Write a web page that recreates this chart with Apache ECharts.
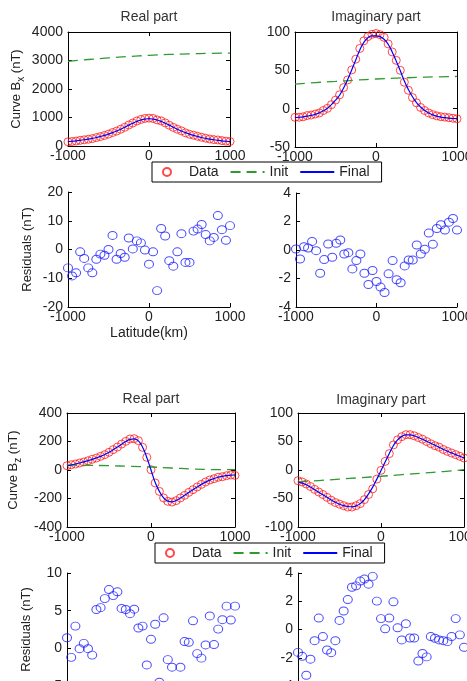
<!DOCTYPE html>
<html>
<head>
<meta charset="utf-8">
<script src="https://cdn.jsdelivr.net/npm/echarts@6/dist/echarts.min.js"></script>
<style>
  html, body { margin: 0; padding: 0; background: #fff; }
  #chart { width: 467px; height: 681px; }
</style>
</head>
<body>
<div id="chart"></div>
<script>
// latitude of the 41 stations (km)
var lat = [-1000, -950, -900, -850, -800, -750, -700, -650, -600, -550, -500,
  -450, -400, -350, -300, -250, -200, -150, -100, -50, 0,
  50, 100, 150, 200, 250, 300, 350, 400, 450, 500,
  550, 600, 650, 700, 750, 800, 850, 900, 950, 1000];
var initLat = [-1000, -750, -500, -250, 0, 250, 500, 750, 1000];

// Bx, real part
var bxReData = [147, 158, 174, 199, 217, 236, 260, 295, 331, 370, 417, 473, 522, 588, 656, 736, 806, 877, 932, 967,
  978, 966, 916, 881, 811, 728, 653, 588, 531, 463, 412, 378, 340, 307, 273, 245, 224, 212, 189, 170, 158];
var bxReInit = [2970, 3035, 3090, 3140, 3180, 3212, 3235, 3250, 3260];
var bxReFinal = [153, 167, 182, 200, 220, 242, 268, 298, 333, 372, 417, 468, 525, 589, 659, 732, 800, 862, 912, 945,
  958, 945, 912, 862, 800, 732, 659, 589, 525, 468, 417, 372, 333, 298, 268, 242, 220, 200, 182, 167, 152];
var bxReRes = [-6.4, -9.2, -8.1, -0.8, -3.1, -6.4, -8.1, -3.4, -1.6, -2.0, 0.0, 4.9, -3.4, -1.4, -2.7, 4.0, 0.2, 3.0, 2.3, -0.2,
  -5.1, -0.8, -14.3, 7.3, 4.7, -3.9, -5.8, -0.8, 5.5, -4.5, -4.5, 6.4, 7.1, 8.7, 5.2, 3.0, 4.2, 11.8, 6.9, 3.2, 8.3];

// Bx, imaginary part
var bxImData = [-11.3, -11.2, -10.6, -9.0, -8.3, -7.0, -5.6, -2.4, 0.4, 5.2, 11.2, 18.0, 27.5, 37.5, 50.5, 64.5, 78.5, 88.5, 94, 97,
  98, 96.5, 93, 84.5, 74, 63, 50, 34.5, 24, 14.5, 7.6, 1.6, -2.4, -5.6, -7.8, -9.4, -10.5, -11, -11.8, -12.5, -13.2];
var bxImInit = [32, 34, 35.5, 37.2, 38.7, 39.8, 40.8, 41.5, 42];
var bxImFinal = [-11.8, -11.2, -10.6, -9.8, -8.8, -7.4, -5.4, -2.8, 0.6, 5.2, 11, 17.5, 27, 38, 50.5, 63.5, 76.5, 86.5, 92.5, 95,
  95, 94, 90.5, 84, 74, 62, 49.5, 36, 25, 15.5, 8, 2.2, -2.2, -5.6, -8, -9.8, -11, -11.8, -12.4, -12.8, -13];
var bxImRes = [0.07, -0.63, 0.23, 0.14, 0.6, -0.05, -1.63, -0.67, 0.42, -0.51, 0.47, 0.7, -0.28, -0.19, -1.33, -0.74, -0.28, -1.63, -2.42, -1.44,
  -2.21, -2.6, -2.98, -1.67, -0.74, -2.09, -2.3, -1.12, -0.7, -0.7, 0.35, -0.28, 0.05, 1.19, 0.4, 1.51, 1.77, 1.4, 1.95, 2.21, 1.4];

// Bz, real part
var bzReData = [30, 37, 42, 49, 56, 65, 75, 84, 96, 108, 124, 143, 161, 182, 201, 218, 220, 206, 159, 89,
  2, -91, -150, -196, -220, -225, -215, -196, -178, -157, -138, -119, -101, -84, -70, -61, -51, -47, -40, -35, -38];
var bzReInit = [35, 33, 30, 26, 21, 14, 7, 3, 2];
var bzReFinal = [28, 35, 42, 49, 57, 66, 75, 85, 96, 109, 124, 142, 161, 181, 200, 215, 219, 204, 160, 88,
  0, -88, -150, -195, -218, -223, -214, -197, -178, -158, -138, -119, -101, -85, -71, -60, -51, -45, -40, -36, -35];
var bzReRes = [1.4, -1.2, 2.95, -0.05, 0.66, -0.05, -0.9, 5.15, 5.4, 6.6, 7.8, 7.0, 7.5, 5.3, 5.15, 4.6, 5.2, 2.7, 2.95, -2.2,
  1.2, 3.2, -4.5, 4.05, -1.5, -2.5, -6, -2.5, 0.9, 0.8, 3.65, -0.7, -1.3, 0.45, 4.3, 0.5, 2.55, 3.8, 5.6, 3.75, 5.6];

// Bz, imaginary part
var bzImData = [-18.7, -21, -24.6, -29, -34, -38.6, -43, -48, -53, -57, -60, -62.6, -65, -65, -62.6, -59, -52, -43, -33, -16,
  -0.6, 15, 28.7, 44, 53, 58.5, 62, 62, 60, 57, 54, 50, 46, 42.7, 40, 36, 32.7, 29.8, 27, 24, 21];
var bzImInit = [-21, -18.5, -16, -13.5, -11, -8.2, -5.5, -2.7, 0.5];
var bzImFinal = [-21, -23, -26, -30, -34.5, -39, -43.5, -48, -52.5, -56.5, -60, -62.5, -64, -64.5, -63, -59, -52, -42, -30, -16,
  -1, 14, 29, 43, 53, 59, 61.5, 61.5, 60, 57, 54, 50.5, 47, 43.5, 40, 36.5, 33, 30, 27, 24, 21];
var bzImRes = [-1.62, -1.9, -3.24, -2.1, -0.79, 0.81, -0.5, -1.45, -1.64, -0.79, 0.64, 1.31, 2.12, 2.99, 3.09, 3.43, 3.57, 3.21, 3.76, 2.01,
  0.77, 0.05, 0.81, 1.96, 0.12, -0.74, 0.41, -0.6, -0.6, -2.23, -1.7, -1.94, -0.5, -0.62, -0.74, -0.79, -0.86, -0.5, 0.77, -0.38, -1.26];

var legendNames = ['Data', 'Init', 'Final'];

var FONT = 'Liberation Sans, Arial, sans-serif';
var TXT = '#222';

function pairs (xs, ys) {
  return xs.map(function (x, i) { return [x, ys[i]]; });
}

var panels = [
  {grid: {left: 68, top: 32, width: 162, height: 114}, y: [0, 4000, 1000], box: true, yName: 'Curve B{s|x} (nT)', yGap: 42},
  {grid: {left: 295, top: 32, width: 162, height: 115}, y: [-50, 100, 50], box: true},
  {grid: {left: 68, top: 192, width: 162, height: 115}, y: [-20, 20, 10], yName: 'Residuals (nT)', yGap: 34, xName: 'Latitude(km)'},
  {grid: {left: 296, top: 193, width: 161, height: 114}, y: [-4, 4, 2]},
  {grid: {left: 67, top: 413, width: 168, height: 114}, y: [-400, 400, 200], box: true, yName: 'Curve B{s|z} (nT)', yGap: 44},
  {grid: {left: 298, top: 413, width: 166, height: 114}, y: [-100, 100, 50], box: true},
  {grid: {left: 67, top: 573, width: 168, height: 113}, y: [-5, 10, 5], yName: 'Residuals (nT)', yGap: 34},
  {grid: {left: 298, top: 573, width: 166, height: 113}, y: [-4, 4, 2]}
];

var grids = [], xAxes = [], yAxes = [];
var lineBlack = {color: '#000', width: 1};
var plain = function (v) { return String(v); };

panels.forEach(function (p, i) {
  var g = Object.assign({outerBoundsMode: 'none', containLabel: false}, p.grid);
  grids.push(g);
  xAxes.push({
    type: 'value', gridIndex: i, position: 'bottom',
    min: -1000, max: 1000, interval: 1000,
    axisLine: {show: true, onZero: false, lineStyle: lineBlack},
    axisTick: {show: true, inside: true, length: 4, lineStyle: lineBlack},
    axisLabel: {color: TXT, fontSize: 14, fontFamily: FONT, margin: 3, formatter: plain},
    splitLine: {show: false},
    name: p.xName || '', nameLocation: 'middle', nameGap: 19,
    nameTextStyle: {color: TXT, fontSize: 14, fontFamily: FONT}
  });
  yAxes.push({
    type: 'value', gridIndex: i, position: 'left',
    min: p.y[0], max: p.y[1], interval: p.y[2],
    axisLine: {show: true, onZero: false, lineStyle: lineBlack},
    axisTick: {show: true, inside: true, length: 4, lineStyle: lineBlack},
    axisLabel: {color: TXT, fontSize: 14, fontFamily: FONT, margin: 5, formatter: plain},
    splitLine: {show: false},
    name: p.yName || '', nameLocation: 'middle', nameGap: p.yGap || 30, nameRotate: 90,
    nameTextStyle: {
      color: TXT, fontSize: 13, fontFamily: FONT,
      rich: {s: {color: TXT, fontSize: 10, fontFamily: FONT, padding: [9, 0, 0, 0]}}
    }
  });
});

// top and right frame of the fitted-curve panels, ticks pointing inward
panels.forEach(function (p, i) {
  if (!p.box) return;
  xAxes.push({
    type: 'value', gridIndex: i, position: 'top',
    min: -1000, max: 1000, interval: 1000,
    axisLine: {show: true, onZero: false, lineStyle: lineBlack},
    axisTick: {show: true, inside: true, length: 4, lineStyle: lineBlack},
    axisLabel: {show: false}, splitLine: {show: false}
  });
  yAxes.push({
    type: 'value', gridIndex: i, position: 'right',
    min: p.y[0], max: p.y[1], interval: p.y[2],
    axisLine: {show: true, onZero: false, lineStyle: lineBlack},
    axisTick: {show: true, inside: true, length: 4, lineStyle: lineBlack},
    axisLabel: {show: false}, splitLine: {show: false}
  });
});

var RED = '#ff1a1a', GREEN = '#2f9a2f', BLUE = '#0000ff', RESBLUE = '#2020ff';

function fitSeries (g, data, init, fin) {
  return [
    {name: 'Data', type: 'scatter', xAxisIndex: g, yAxisIndex: g, data: pairs(lat, data),
      symbol: 'circle', symbolSize: 8,
      itemStyle: {color: 'rgba(255,255,255,0)', borderColor: RED, borderWidth: 1}},
    {name: 'Init', type: 'line', xAxisIndex: g, yAxisIndex: g, data: pairs(initLat, init),
      symbol: 'none', smooth: true, itemStyle: {color: GREEN},
      lineStyle: {color: GREEN, width: 1.3, type: [10, 6]}},
    {name: 'Final', type: 'line', xAxisIndex: g, yAxisIndex: g, data: pairs(lat, fin),
      symbol: 'none', smooth: true, itemStyle: {color: BLUE},
      lineStyle: {color: BLUE, width: 1.2}}
  ];
}

function resSeries (g, res) {
  return {name: 'Residual', type: 'scatter', xAxisIndex: g, yAxisIndex: g, data: pairs(lat, res),
    symbol: 'circle', symbolSize: [9, 8],
    itemStyle: {color: 'rgba(255,255,255,0)', borderColor: RESBLUE, borderWidth: 1}};
}

var series = [].concat(
  fitSeries(0, bxReData, bxReInit, bxReFinal),
  fitSeries(1, bxImData, bxImInit, bxImFinal),
  [resSeries(2, bxReRes), resSeries(3, bxImRes)],
  fitSeries(4, bzReData, bzReInit, bzReFinal),
  fitSeries(5, bzImData, bzImInit, bzImFinal),
  [resSeries(6, bzReRes), resSeries(7, bzImRes)]
);

function makeLegend (left, top) {
  return {
    data: legendNames.map(function (n, k) {
      return k === 0 ? {name: n} : {name: n, itemStyle: {opacity: 0}};
    }),
    left: left, top: top, orient: 'horizontal',
    itemWidth: 34, itemHeight: 8, itemGap: 11,
    padding: [3, 12, 3, 10],
    borderColor: '#000', borderWidth: 1, backgroundColor: '#fff',
    selectedMode: false,
    textStyle: {color: TXT, fontSize: 14, fontFamily: FONT}
  };
}

function title (x, y, text) {
  return {type: 'text', x: x, y: y, z: 10,
    style: {text: text, fill: '#333', font: '14px ' + FONT, textAlign: 'center', textVerticalAlign: 'middle'}};
}

var chart = echarts.init(document.getElementById('chart'));
chart.setOption({
  animation: false,
  backgroundColor: '#fff',
  grid: grids,
  xAxis: xAxes,
  yAxis: yAxes,
  legend: [makeLegend(152, 162), makeLegend(155, 543)],
  graphic: [
    title(149, 17, 'Real part'),
    title(376, 17, 'Imaginary part'),
    title(151, 399, 'Real part'),
    title(381, 400, 'Imaginary part')
  ],
  series: series
});
</script>
</body>
</html>
